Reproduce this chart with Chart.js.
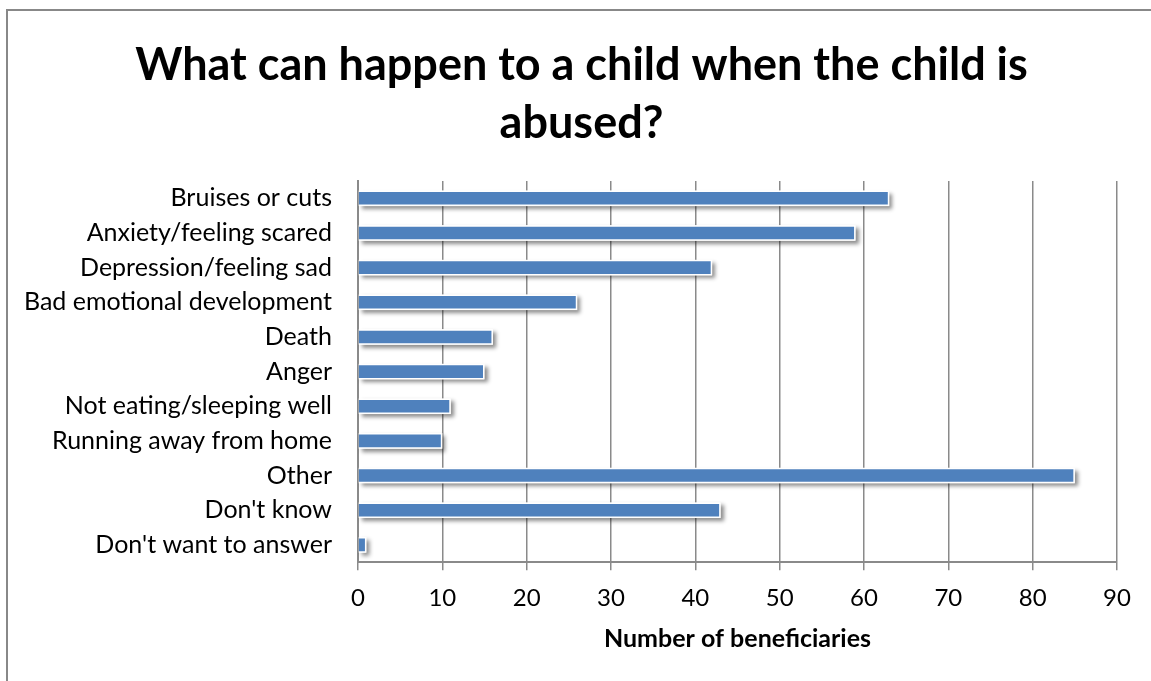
<!DOCTYPE html>
<html>
<head>
<meta charset="utf-8">
<script src="https://cdn.jsdelivr.net/npm/chart.js@4.4.1/dist/chart.umd.min.js"></script>
<style>
    html, body { margin: 0; padding: 0; background: #fff; overflow: hidden; }
    #frame {
        position: absolute; left: 6px; top: 9px; width: 1170px; height: 700px;
        border: 2px solid #888; box-sizing: border-box;
    }
    #wrap { position: absolute; left: 0; top: 0; width: 1151px; height: 681px; }
</style>
</head>
<body>
<div id="frame"></div>
<div id="wrap"><canvas id="chart" width="1151" height="681"></canvas></div>
<script>
    const categories = [
        "Bruises or cuts",
        "Anxiety/feeling scared",
        "Depression/feeling sad",
        "Bad emotional development",
        "Death",
        "Anger",
        "Not eating/sleeping well",
        "Running away from home",
        "Other",
        "Don't know",
        "Don't want to answer",
    ];
    const beneficiaries = [63, 59, 42, 26, 16, 15, 11, 10, 85, 43, 1];
    const xTicks = [0, 10, 20, 30, 40, 50, 60, 70, 80, 90];

    const FONT = "Lato, Carlito, Calibri, sans-serif";
    const GRID = "#8a8a8a";

    // soft drop shadow behind each bar, drawn from the element geometry
    const barShadow = {
        id: "barShadow",
        beforeDatasetDraw(chart, args) {
            const ctx = chart.ctx;
            const meta = args.meta;
            ctx.save();
            ctx.shadowColor = "rgba(0,0,0,0.45)";
            ctx.shadowBlur = 4;
            ctx.shadowOffsetX = 3;
            ctx.shadowOffsetY = 3;
            ctx.fillStyle = "#ffffff";
            meta.data.forEach((bar) => {
                const p = bar.getProps(["x", "y", "base", "height"], true);
                ctx.fillRect(p.base, p.y - p.height / 2, p.x - p.base, p.height);
            });
            ctx.restore();
        },
    };

    // long category names reach into the left padding; widen the label clip area
    const labelRoom = {
        id: "labelRoom",
        afterLayout(chart) {
            chart.scales.y.left = 0;
        },
    };

    new Chart(document.getElementById("chart"), {
        type: "bar",
        data: {
            labels: categories,
            datasets: [{
                data: beneficiaries,
                backgroundColor: "#4f81bd",
                borderColor: "#ffffff",
                borderWidth: 1.5,
                categoryPercentage: 0.45,
                barPercentage: 1,
            }],
        },
        options: {
            indexAxis: "y",
            responsive: false,
            animation: false,
            layout: { padding: { left: 46, right: 34, top: 0, bottom: 23 } },
            plugins: {
                legend: { display: false },
                tooltip: { enabled: false },
                title: {
                    display: true,
                    text: ["What can happen to a child when the child is", "abused?"],
                    color: "#000",
                    font: { family: FONT, size: 45, weight: "bold", lineHeight: 1.3 },
                    padding: { top: 36, bottom: 28 },
                },
            },
            scales: {
                x: {
                    min: 0,
                    max: 90,
                    afterBuildTicks(scale) {
                        scale.ticks = xTicks.map((v) => ({ value: v }));
                    },
                    grid: { color: GRID, lineWidth: 1.5, tickLength: 8 },
                    border: { color: GRID, width: 2 },
                    ticks: { color: "#000", padding: 14, font: { family: FONT, size: 24 } },
                    title: {
                        display: true,
                        text: "Number of beneficiaries",
                        color: "#000",
                        font: { family: FONT, size: 25, weight: "bold" },
                        padding: { top: -3 },
                    },
                },
                y: {
                    afterFit(scale) { scale.width = 312; },
                    grid: { display: true, drawOnChartArea: false, tickLength: 0, color: GRID },
                    border: { color: GRID, width: 2 },
                    ticks: { color: "#000", padding: 26, font: { family: FONT, size: 25 } },
                },
            },
        },
        plugins: [barShadow, labelRoom],
    });
</script>
</body>
</html>
